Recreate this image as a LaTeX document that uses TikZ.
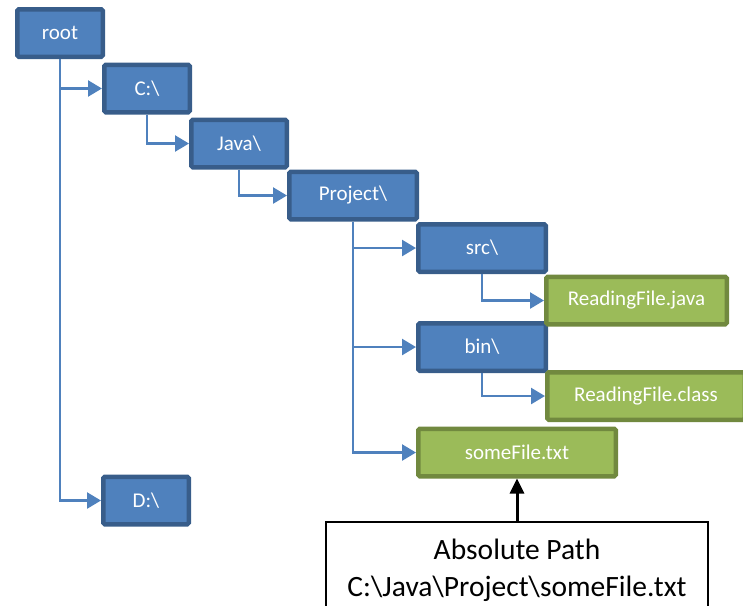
\documentclass[tikz,border=0pt]{standalone}
\usepackage{fontspec}
\setmainfont{Carlito}
\usetikzlibrary{arrows.meta}
\definecolor{dirfill}{HTML}{4F81BD}
\definecolor{dirdraw}{HTML}{385D8A}
\definecolor{filefill}{HTML}{9BBB59}
\definecolor{filedraw}{HTML}{71893F}
\tikzset{
	folder/.style = {draw=dirdraw, fill=dirfill, line width=4.5pt, rounded corners=1.5pt, text=white, inner sep=0pt,
			minimum height=47.5pt, font=\fontsize{21}{25}\selectfont},
	file/.style = {folder, draw=filedraw, fill=filefill},
	link/.style = {draw=dirfill, line width=2.5pt, -{Triangle[length=14pt, width=16pt]}},
	pathbox/.style = {draw=black, fill=white, line width=1.5pt, align=center, inner xsep=0pt, inner ysep=17pt,
			font=\fontsize{29.5}{37}\selectfont}
}

\begin{document}
\begin{tikzpicture}[x=1pt, y=-1pt]
	\useasboundingbox (0,0) rectangle (743,605);
	% ====== Folders ========
	\node[folder, minimum width=85.5pt] (root) at (60,33) {root};
	\node[folder, minimum width=85.5pt] (cdrive) at (147,88.5) {C:\textbackslash};
	\node[folder, minimum width=95.5pt] (java) at (239,143.5) {Java\textbackslash};
	\node[folder, minimum width=127.5pt] (project) at (353,195.5) {Project\textbackslash};
	\node[folder, minimum width=127.5pt] (src) at (482,248) {src\textbackslash};
	\node[folder, minimum width=127.5pt] (bin) at (482,347) {bin\textbackslash};
	\node[folder, minimum width=85.5pt] (ddrive) at (146,500.5) {D:\textbackslash};
	% ====== Files ========
	\node[file, minimum width=180.5pt] (rfjava) at (636.5,300.5) {ReadingFile.java};
	\node[file, minimum width=197.5pt] (rfclass) at (646,396) {ReadingFile.class};
	\node[file, minimum width=197.5pt] (somefile) at (517,452.5) {someFile.txt};

	\foreach \a/\b in {root/cdrive, root/ddrive, cdrive/java, java/project, project/src,
			project/bin, project/somefile, src/rfjava, bin/rfclass} {\draw[link] (\a.south) |- (\b);}

	% ====== Path ========
	\node[pathbox, anchor=north, minimum width=382pt] (abspath) at (517,521)
		{Absolute Path\\C:\textbackslash Java\textbackslash Project\textbackslash someFile.txt};
	\draw[line width=3pt, -{Triangle[length=15pt, width=14pt]}] (abspath.north) -- (somefile.south);
\end{tikzpicture}
\end{document}
